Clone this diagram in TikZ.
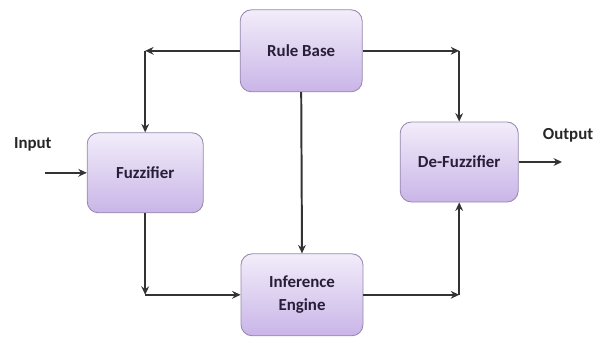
\documentclass[tikz,border=0pt]{standalone}
\usepackage{fontspec}
\setmainfont{Carlito}
\usetikzlibrary{calc}
\usetikzlibrary{positioning}
\usetikzlibrary{arrows.meta}

\definecolor{boxtop}{RGB}{242,237,250}
\definecolor{boxbot}{RGB}{201,181,232}
\definecolor{boxline}{RGB}{150,135,172}
\definecolor{boxtext}{RGB}{40,30,55}

\begin{document}
\begin{tikzpicture}
    \tikzstyle{block}=[draw=boxline, line width=0.6pt, rounded corners=8pt,
      top color=boxtop, bottom color=boxbot, font=\fontsize{12}{14}\selectfont\bfseries,
      text=boxtext, align=center]
    \tikzstyle{flow}=[draw=black!80, line width=1.4pt, -{Stealth[length=6pt,width=5.5pt]}]
    \tikzstyle{label}=[font=\fontsize{12}{14}\selectfont\bfseries, text=black!85]

    \useasboundingbox (0, 0) rectangle (15.05, 8.45);

    % Blocks
    \node[block, minimum width=3.05cm, minimum height=2.05cm] (rule) at (7.53, 7.18) {Rule Base};
    \node[block, minimum width=2.9cm, minimum height=2cm] (fuzz) at (3.63, 4.13) {Fuzzifier};
    \node[block, minimum width=2.95cm, minimum height=2cm] (defuzz) at (11.48, 4.4) {De-Fuzzifier};
    \node[block, minimum width=3.05cm, minimum height=2.05cm] (infer) at (7.55, 1.08) {Inference\\[2pt]Engine};

    % Input / Output
    \node[label] (inlabel) at (0.82, 4.83) {Input};
    \node[label] (outlabel) at (14.2, 5.08) {Output};
    \coordinate (in) at (1.12, 4.13);
    \coordinate (out) at (14.05, 4.4);
    \draw[flow] (in) -- (fuzz.west);
    \draw[flow] (defuzz.east) -- (out);

    % Rule base to fuzzifier / de-fuzzifier
    \coordinate (tl) at (rule.west -| fuzz.north);
    \coordinate (tr) at (rule.east -| defuzz.north);
    \draw[flow] (rule.west) -- (tl);
    \draw[flow] (tl) -- (fuzz.north);
    \draw[flow] (rule.east) -- (tr);
    \draw[flow] (tr) -- (defuzz.north);

    % Rule base to inference
    \draw[flow] (rule.south) -- (infer.north);

    % Fuzzifier to inference to de-fuzzifier
    \coordinate (bl) at (infer.west -| fuzz.south);
    \coordinate (br) at (infer.east -| defuzz.south);
    \draw[flow] (fuzz.south) -- (bl);
    \draw[flow] (bl) -- (infer.west);
    \draw[flow] (infer.east) -- (br);
    \draw[flow] (br) -- (defuzz.south);
  \end{tikzpicture}
\end{document}
